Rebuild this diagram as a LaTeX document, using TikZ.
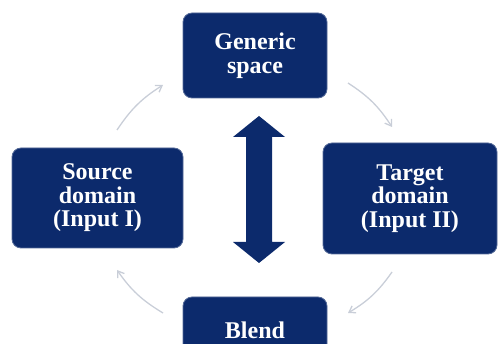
\documentclass[tikz,border=0pt]{standalone}
\usepackage{fontspec}
\setmainfont{Liberation Serif}
\usetikzlibrary{arrows.meta}
\definecolor{navy}{HTML}{0C2A6C}
\definecolor{lgray}{HTML}{C9CED8}
\tikzset{
  boxtext/.style={text=white, font=\fontsize{24}{23.5}\selectfont\bfseries, align=center, inner sep=0pt},
  box/.style={boxtext, draw=navy!70!white, line width=0.8pt, fill=navy, rounded corners=9pt},
  cyc/.style={draw=lgray, line width=1.3pt, -{Straight Barb[length=6pt,width=8pt]}}
}
\begin{document}
\begin{tikzpicture}[x=1pt,y=-1pt]
\useasboundingbox (0,0) rectangle (498,344);
\clip (0,0) rectangle (498,344);
\node[box, minimum width=144pt, minimum height=85pt] (gen) at (255,55.5) {Generic\\space};
\node[box, minimum width=171pt, minimum height=100pt] (src) at (97.5,198) {Source\\domain\\(Input I)};
\node[box, minimum width=174pt, minimum height=111pt] (tgt) at (410,198.5) {Target\\domain\\(Input II)};
\node[box, minimum width=144pt, minimum height=85pt] (bld) at (255,339.5) {};
\node[boxtext, anchor=base] (bldtext) at (255,338.5) {Blend};
\fill[navy] (259,116) -- (285,137) -- (272,137) -- (272,242) -- (285,242) -- (259,263)
  -- (233,242) -- (246,242) -- (246,137) -- (233,137) -- cycle;
\coordinate (a1) at (117,130); \coordinate (b1) at (163,85);
\coordinate (a2) at (348,83);  \coordinate (b2) at (392,127);
\coordinate (a3) at (392,272); \coordinate (b3) at (348,313);
\coordinate (a4) at (163,313); \coordinate (b4) at (117,270);
\draw[cyc] (a1) to[bend left=12] (b1);
\draw[cyc] (a2) to[bend left=12] (b2);
\draw[cyc] (a3) to[bend left=12] (b3);
\draw[cyc] (a4) to[bend left=12] (b4);
\end{tikzpicture}
\end{document}
